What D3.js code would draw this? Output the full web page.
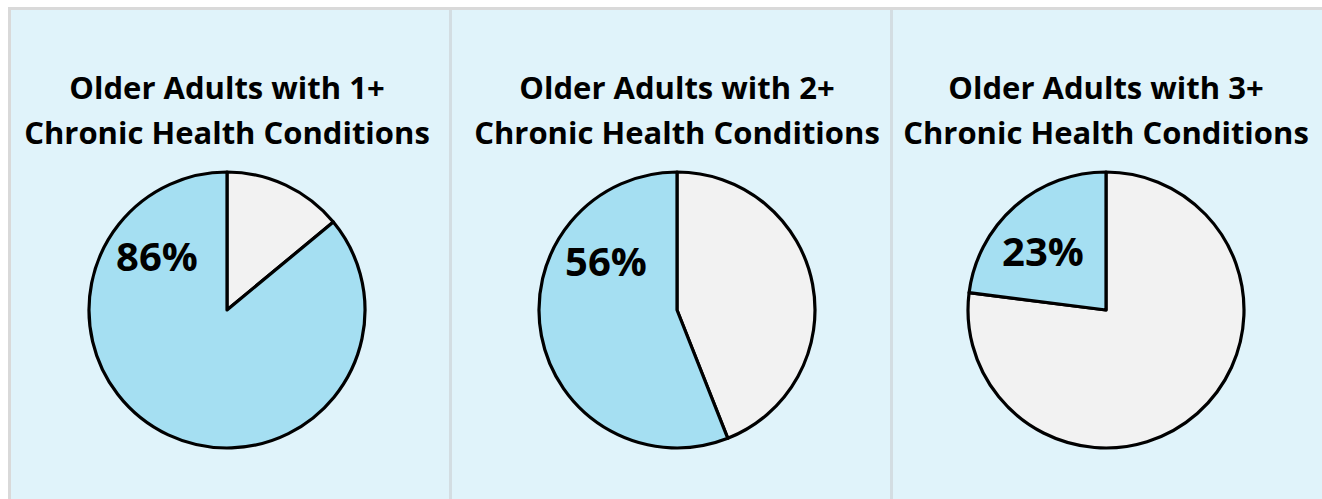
<!DOCTYPE html>
<html>
<head>
<meta charset="utf-8">
<script src="https://cdn.jsdelivr.net/npm/d3@7"></script>
<style>
  html, body { margin: 0; padding: 0; background: #ffffff; }
  svg { display: block; }
</style>
</head>
<body>
<svg id="chart" width="1322" height="499"></svg>
<script>
// Share of older adults with 1+, 2+ and 3+ chronic health conditions
const titleLine1 = ["Older Adults with 1+", "Older Adults with 2+", "Older Adults with 3+"];
const titleLine2 = ["Chronic Health Conditions", "Chronic Health Conditions", "Chronic Health Conditions"];
const percentWith = [86, 56, 23];

// Layout
const W = 1322, H = 499;
const panelEdges = [9.5, 450.5, 891.5, 1340];
const pieCenterX = [227, 677, 1106];
const pieCenterY = 310;
const radius = 138;
const labelOffset = [[-70, -55], [-71, -50], [-63, -60]];
const colors = { bg: "#e0f3fa", border: "#d9d9d9", divider: "#d3dde2", on: "#a5dff2", off: "#f2f2f2" };
const fontFamily = "'Open Sans', Lato, sans-serif";

const svg = d3.select("#chart");

// panel backgrounds
svg.append("rect")
  .attr("x", panelEdges[0]).attr("y", 8.5)
  .attr("width", W - panelEdges[0] + 10).attr("height", H)
  .attr("fill", colors.bg)
  .attr("stroke", colors.border).attr("stroke-width", 3);

// dividers between panels
svg.selectAll("line.divider")
  .data(panelEdges.slice(1, 3))
  .join("line")
  .attr("class", "divider")
  .attr("x1", d => d).attr("x2", d => d)
  .attr("y1", 10).attr("y2", H)
  .attr("stroke", colors.divider).attr("stroke-width", 3);

const pie = d3.pie().sort(null).value(d => d.value).startAngle(0).endAngle(2 * Math.PI);
const arc = d3.arc().innerRadius(0).outerRadius(radius);

percentWith.forEach((v, i) => {
  const g = svg.append("g").attr("transform", `translate(${pieCenterX[i]},${pieCenterY})`);

  const slices = pie([
    { key: "without", value: 100 - v },
    { key: "with", value: v }
  ]);

  g.selectAll("path")
    .data(slices)
    .join("path")
    .attr("d", arc)
    .attr("fill", d => d.data.key === "with" ? colors.on : colors.off)
    .attr("stroke", "#000")
    .attr("stroke-width", 3.2)
    .attr("stroke-linejoin", "round");

  g.append("text")
    .attr("x", labelOffset[i][0]).attr("y", labelOffset[i][1])
    .attr("text-anchor", "middle")
    .attr("dominant-baseline", "central")
    .attr("font-family", fontFamily)
    .attr("font-weight", 700)
    .attr("font-size", 40)
    .attr("fill", "#000")
    .text(d3.format(".0f")(v) + "%");

  const t = svg.append("text")
    .attr("text-anchor", "middle")
    .attr("font-family", fontFamily)
    .attr("font-weight", 700)
    .attr("font-size", 31)
    .attr("fill", "#000");
  t.append("tspan").attr("x", pieCenterX[i]).attr("y", 99).text(titleLine1[i]);
  t.append("tspan").attr("x", pieCenterX[i]).attr("y", 144).text(titleLine2[i]);
});
</script>
</body>
</html>
